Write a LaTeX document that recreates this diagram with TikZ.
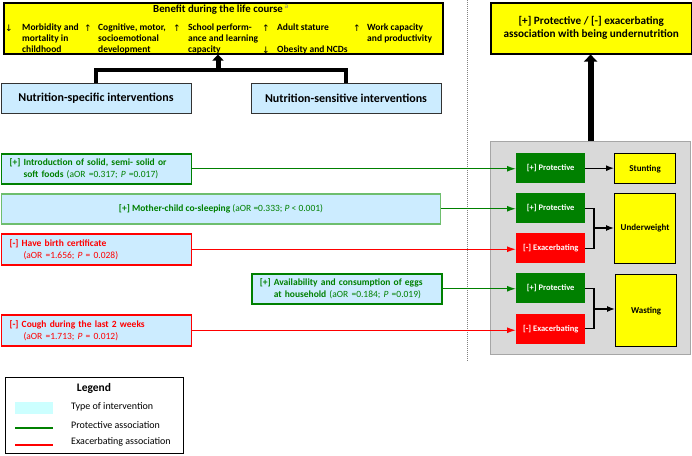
\documentclass[tikz,border=0pt]{standalone}
\usepackage{fontspec}
\setmainfont{Carlito}
\newfontfamily\arrowfont{DejaVu Sans}
\usetikzlibrary{arrows.meta,calc}
\definecolor{lblue}{RGB}{204,236,255}
\definecolor{lcyan}{RGB}{204,255,255}
\definecolor{pgreen}{RGB}{0,128,0}
\definecolor{lgreen}{RGB}{110,190,110}
\definecolor{pred}{RGB}{255,0,0}
\definecolor{ybox}{RGB}{255,255,0}
\definecolor{gbg}{RGB}{217,217,217}
\definecolor{gborder}{RGB}{166,166,166}
\begin{document}
\begin{tikzpicture}[x=1pt,y=-1pt,
  every node/.style={inner sep=0pt},
  lbox/.style={draw, line width=1.5pt, fill=lblue, anchor=north west, inner xsep=8pt,
    font=\fontsize{9.5}{12}\selectfont, align=left},
  gbox/.style={lbox, draw=pgreen, text=pgreen},
  rbox/.style={lbox, draw=pred, text=pred},
  nbox/.style={draw=black!80, line width=1pt, fill=lblue, anchor=north west,
    minimum width=190pt, minimum height=30pt, font=\bfseries\fontsize{12}{14}\selectfont},
  ybx/.style={draw, line width=1.5pt, fill=ybox, anchor=north west},
  assoc/.style={anchor=north west, minimum width=69pt, minimum height=30pt,
    text=white, font=\bfseries\fontsize{8.5}{10}\selectfont},
  prot/.style={assoc, fill=pgreen},
  exac/.style={assoc, fill=pred},
  outc/.style={ybx, line width=1.2pt, minimum width=61pt, font=\bfseries\fontsize{9}{10}\selectfont},
  item/.style={anchor=north west, align=left, font=\bfseries\fontsize{9.5}{11}\selectfont},
  arr/.style={anchor=west, font=\arrowfont\fontsize{9}{10}\selectfont},
  gline/.style={draw=pgreen, line width=1.3pt, -{Latex[length=9pt,width=6pt]}},
  rline/.style={draw=pred, line width=1.3pt, -{Latex[length=9pt,width=6pt]}},
  bline/.style={draw=black, line width=1.3pt},
  legtxt/.style={anchor=west, font=\fontsize{10}{12}\selectfont}
]
\useasboundingbox (0,0) rectangle (692,455);

% dotted separator
\draw[gray, line width=0.6pt, dash pattern=on 1pt off 1pt] (467,0) -- (467,362);

% ---- top-left benefit box
\node[ybx, minimum width=439pt, minimum height=51pt] (benefit) at (3,2) {};
\node[font=\bfseries\fontsize{10.8}{12}\selectfont] (btitle) at (221,10)
  {Benefit during the life course\,\textsuperscript{\textcolor{black!50}{\mdseries a}}};
\node[arr] (a1) at (5,28) {↓};
\node[item] (i1) at (22,23.5) {Morbidity and\\mortality in\\childhood};
\node[arr] (a2) at (84,28) {↑};
\node[item] (i2) at (98,23.5) {Cognitive, motor,\\socioemotional\\development};
\node[arr] (a3) at (173,28) {↑};
\node[item] (i3) at (188,23.5) {School perform-\\ance and learning\\capacity};
\node[arr] (a4) at (262,28) {↑};
\node[item] (i4) at (277,23.5) {Adult stature};
\node[arr] (a5) at (262,50) {↓};
\node[item] (i5) at (277,45.5) {Obesity and NCDs};
\node[arr] (a6) at (353,28) {↑};
\node[item] (i6) at (367,23.5) {Work capacity\\and productivity};

% ---- intervention types
\node[nbox] (nspec) at (0.5,83) {Nutrition-specific interventions};
\node[nbox] (nsens) at (250.5,83) {Nutrition-sensitive interventions};
\coordinate (jn) at (218,70);
\draw[line width=4pt] (nspec.north) |- (jn) -| (nsens.north);
\draw[line width=5pt, -{Triangle[length=6pt,width=11pt]}] (jn) -- (jn |- benefit.south);

% ---- right top box
\node[ybx, minimum width=201pt, minimum height=51pt, align=center,
  font=\bfseries\fontsize{11.2}{13}\selectfont] (assocbox) at (490,2)
  {[+] Protective / [-] exacerbating\\association with being undernutrition};

% ---- gray panel
\node[draw=gborder, fill=gbg, line width=1.2pt, anchor=north west,
  minimum width=200pt, minimum height=213pt] (panel) at (490,141) {};
\draw[line width=6pt, -{Triangle[length=7pt,width=13pt]}] (panel.north) -- (panel.north |- assocbox.south);

\node[prot] (p1) at (516,153) {[+] Protective};
\node[prot] (p2) at (516,193) {[+] Protective};
\node[exac] (e1) at (516,233) {[-] Exacerbating};
\node[prot] (p3) at (516,273) {[+] Protective};
\node[exac] (e2) at (516,313.5) {[-] Exacerbating};

\node[outc, minimum height=30pt] (st) at (614,153) {Stunting};
\node[outc, minimum height=70pt] (uw) at (614,193) {Underweight};
\node[outc, minimum height=72pt] (wa) at (615,274) {Wasting};

\draw[bline, -{Latex[length=8pt,width=6pt]}] (p1.east) -- (st.west |- p1.east);
\coordinate (m1) at (594,228);
\draw[bline] (p2.east) -| (m1) |- (e1.east);
\draw[bline, -{Latex[length=8pt,width=6pt]}] (m1) -- (uw.west |- m1);
\coordinate (m2) at (594,309);
\draw[bline] (p3.east) -| (m2) |- (e2.east);
\draw[bline, -{Latex[length=8pt,width=6pt]}] (m2) -- (wa.west |- m2);

% ---- factor boxes
\node[gbox, minimum width=190pt, minimum height=30pt, text width=174pt] (b1) at (0.75,153)
  {\textbf{[+] Introduction of solid, semi- solid or}\\\hspace*{14pt}\textbf{soft foods} (aOR =0.317; \textit{P} =0.017)};
\node[gbox, draw=lgreen, minimum width=439pt, minimum height=30pt, align=center] (b2) at (0.75,193)
  {\textbf{[+] Mother-child co-sleeping} (aOR =0.333; \textit{P} < 0.001)};
\node[rbox, minimum width=190pt, minimum height=31pt, text width=174pt] (b3) at (0.75,233)
  {\textbf{[-] Have birth certificate}\\\hspace*{14pt}(aOR =1.656; \textit{P} = 0.028)};
\node[gbox, minimum width=190pt, minimum height=30pt, text width=174pt] (b4) at (251,273)
  {\textbf{[+] Availability and consumption of eggs}\\\hspace*{14pt}\textbf{at household} (aOR =0.184; \textit{P} =0.019)};
\node[rbox, minimum width=190pt, minimum height=31pt, text width=174pt] (b5) at (0.75,314)
  {\textbf{[-] Cough during the last 2 weeks}\\\hspace*{14pt}(aOR =1.713; \textit{P} = 0.012)};

\draw[gline] (b1.east) -- (b1.east -| p1.west);
\draw[gline] (b2.east) -- (b2.east -| p2.west);
\draw[rline] (b3.east) -- (b3.east -| e1.west);
\draw[gline] (b4.east) -- (b4.east -| p3.west);
\draw[rline] (b5.east) -- (b5.east -| e2.west);

% ---- legend
\node[draw, line width=1pt, anchor=north west, minimum width=178pt, minimum height=76pt] (legend) at (5,377) {};
\node[font=\bfseries\fontsize{11.5}{13}\selectfont] (legtitle) at (94,388) {Legend};
\node[fill=lcyan, anchor=north west, minimum width=38pt, minimum height=12pt] (sw) at (15,402) {};
\coordinate (gl1) at (15,428); \coordinate (gl2) at (53,428);
\draw[pgreen, line width=1.5pt] (gl1) -- (gl2);
\coordinate (rl1) at (15,445); \coordinate (rl2) at (53,445);
\draw[pred, line width=1.5pt] (rl1) -- (rl2);
\node[legtxt] (lt1) at (71,407) {Type of intervention};
\node[legtxt] (lt2) at (71,425) {Protective association};
\node[legtxt] (lt3) at (71,442) {Exacerbating association};
\end{tikzpicture}
\end{document}
